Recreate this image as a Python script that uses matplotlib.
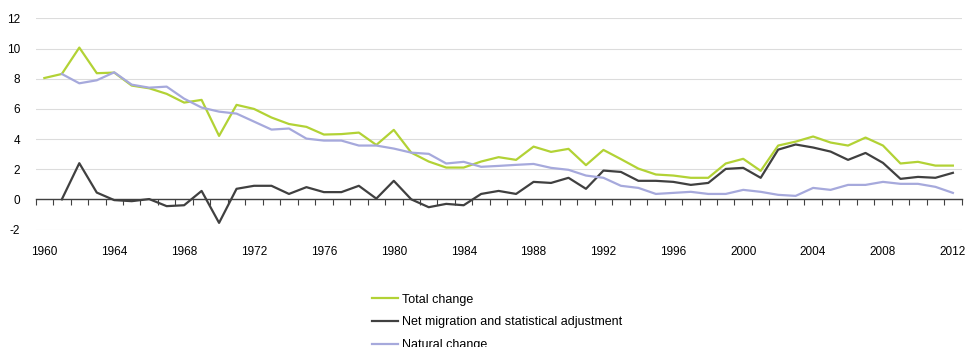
import numpy as np
import matplotlib
matplotlib.use("Agg")
import matplotlib.pyplot as plt

plt.rcParams['font.family'] = ['Liberation Sans', 'DejaVu Sans']

# values per 1 000 inhabitants, 1960-2012
years = list(range(1960, 2013))
total_change = [8.05, 8.32, 10.07, 8.37, 8.41, 7.55, 7.37, 7.0, 6.42, 6.6,
                4.21, 6.27, 6.0, 5.43, 5.0, 4.81, 4.3, 4.33, 4.43, 3.61,
                4.61, 3.1, 2.51, 2.11, 2.11, 2.51, 2.8, 2.62, 3.5, 3.15,
                3.35, 2.27, 3.28, 2.67, 2.04, 1.65, 1.58, 1.43, 1.43, 2.38,
                2.69, 1.89, 3.57, 3.83, 4.17, 3.77, 3.57, 4.1, 3.57, 2.38,
                2.49, 2.24, 2.24]
net_migration = [np.nan, 0.0, 2.4, 0.45, -0.05, -0.12, 0.02, -0.45, -0.39, 0.56,
                 -1.56, 0.7, 0.9, 0.9, 0.36, 0.81, 0.48, 0.48, 0.9, 0.05,
                 1.23, 0.0, -0.52, -0.3, -0.39, 0.36, 0.56, 0.36, 1.16, 1.09,
                 1.43, 0.7, 1.91, 1.82, 1.23, 1.23, 1.16, 0.96, 1.09, 2.02,
                 2.09, 1.43, 3.3, 3.64, 3.44, 3.17, 2.62, 3.08, 2.42, 1.36,
                 1.49, 1.43, 1.76]
natural_change = [np.nan, 8.32, 7.7, 7.9, 8.43, 7.61, 7.41, 7.48, 6.68, 6.09,
                  5.82, 5.69, 5.16, 4.63, 4.7, 4.03, 3.9, 3.9, 3.57, 3.57,
                  3.37, 3.1, 3.02, 2.38, 2.49, 2.16, 2.22, 2.29, 2.35, 2.09,
                  1.96, 1.58, 1.43, 0.9, 0.76, 0.36, 0.43, 0.5, 0.36, 0.36,
                  0.63, 0.5, 0.3, 0.23, 0.76, 0.63, 0.96, 0.96, 1.16, 1.03,
                  1.03, 0.83, 0.43]
y_ticks = [-2, 0, 2, 4, 6, 8, 10, 12]

fig = plt.figure(figsize=(9.68, 3.47), dpi=100)
ax = fig.add_axes([0.0368, 0.3386, 0.9566, 0.6081])

x = np.arange(len(years))
l1, = ax.plot(x, total_change, color='#b2d235', lw=1.6, label='Total change')
l2, = ax.plot(x, net_migration, color='#404040', lw=1.6, label='Net migration and statistical adjustment')
l3, = ax.plot(x, natural_change, color='#a6a9dc', lw=1.6, label='Natural change')

ax.set_xlim(-0.5, len(years) - 0.5)
ax.set_ylim(-2, 12)
ax.set_yticks(y_ticks)
ax.set_yticklabels([str(v) for v in y_ticks], fontsize=8.5)
ax.tick_params(axis='y', length=0, pad=11)
ax.grid(axis='y', color='#dcdcdc', lw=0.8)
ax.set_axisbelow(True)

for s in ['top', 'right', 'left']:
    ax.spines[s].set_visible(False)
ax.spines['bottom'].set_position(('data', 0))
ax.spines['bottom'].set_color('#404040')
ax.spines['bottom'].set_linewidth(1.0)
ax.set_xticks(np.arange(-0.5, len(years), 1.0))
ax.set_xticklabels([])
ax.tick_params(axis='x', direction='out', length=4, width=0.8, color='#404040')

# year labels at the bottom
sec = ax.secondary_xaxis('bottom')
lab_idx = list(range(0, len(years), 4))
sec.set_xticks(lab_idx)
sec.set_xticklabels([str(years[i]) for i in lab_idx], fontsize=8.5)
sec.tick_params(length=0, pad=12)
sec.spines['bottom'].set_visible(False)

fig.legend(handles=[l1, l2, l3], loc='upper left', bbox_to_anchor=(0.384, 0.154),
           frameon=False, fontsize=9, handlelength=2.1, handletextpad=0.3,
           labelspacing=0.87, borderaxespad=0, borderpad=0)

fig.savefig('out.png', dpi=100)
